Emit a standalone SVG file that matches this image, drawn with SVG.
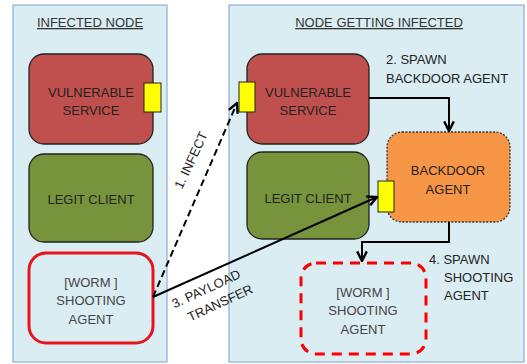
<svg xmlns="http://www.w3.org/2000/svg" width="527" height="364" viewBox="0 0 527 364">
<defs>
<style>
.panel{fill:#DAEDF3;stroke:#8EAEDB;stroke-width:1.2}
.t{font-family:"Liberation Sans",Arial,sans-serif;font-size:13px;fill:#222;text-anchor:middle}
.tl{font-family:"Liberation Sans",Arial,sans-serif;font-size:13px;fill:#222}
.title{font-family:"Liberation Sans",Arial,sans-serif;font-size:13px;fill:#333;text-anchor:middle;text-decoration:underline}
.worm{fill:#444}
.red{fill:#C0504D;stroke:#222;stroke-width:1.3}
.green{fill:#77933C;stroke:#222;stroke-width:1.3}
.port{fill:#FFFF00;stroke:#222;stroke-width:1}
.conn{fill:none;stroke:#000;stroke-width:2}
</style>
<marker id="arr" viewBox="0 0 10 10" refX="9" refY="5" markerWidth="6" markerHeight="6" orient="auto" markerUnits="strokeWidth">
<path d="M1,1 L9,5 L1,9" fill="none" stroke="#000" stroke-width="2"/>
</marker>
</defs>
<rect width="527" height="364" fill="#fff"/>
<g id="panel-left">
<rect class="panel" x="13" y="5" width="154" height="357"/>
<text class="title" x="90" y="27">INFECTED NODE</text>
</g>
<g id="panel-right">
<rect class="panel" x="229" y="5" width="295" height="357"/>
<text class="title" x="379" y="27">NODE GETTING INFECTED</text>
</g>
<g id="left-vulnerable-service">
<rect class="red" x="29" y="54" width="124" height="90" rx="15"/>
<text class="t" x="91" y="97">VULNERABLE</text>
<text class="t" x="91" y="115">SERVICE</text>
<rect class="port" x="144" y="83" width="17" height="29"/>
</g>
<g id="left-legit-client">
<rect class="green" x="29" y="154" width="124" height="88" rx="15"/>
<text class="t" x="91" y="204">LEGIT CLIENT</text>
</g>
<g id="left-shooting-agent">
<rect x="29" y="253" width="124" height="90" rx="17" fill="#DAEDF3" stroke="#E8141B" stroke-width="3"/>
<text class="t worm" x="91" y="287">[WORM ]</text>
<text class="t worm" x="91" y="305">SHOOTING</text>
<text class="t worm" x="91" y="324">AGENT</text>
</g>
<g id="right-vulnerable-service">
<rect class="red" x="247" y="54" width="122" height="90" rx="15"/>
<text class="t" x="308" y="97">VULNERABLE</text>
<text class="t" x="308" y="115">SERVICE</text>
<rect class="port" x="239" y="82" width="16" height="30"/>
</g>
<g id="right-legit-client">
<rect class="green" x="247" y="152" width="122" height="87" rx="15"/>
<text class="t" x="308" y="203">LEGIT CLIENT</text>
</g>
<g id="backdoor-agent">
<rect x="387" y="132" width="123" height="90" rx="15" fill="#F79646" stroke="#333" stroke-width="1.3" stroke-dasharray="2,1.5"/>
<text class="t" x="448" y="175">BACKDOOR</text>
<text class="t" x="448" y="194">AGENT</text>
<rect class="port" x="378" y="181" width="16" height="31"/>
</g>
<g id="right-shooting-agent">
<rect x="301" y="263" width="125" height="91" rx="15" fill="none" stroke="#FF0000" stroke-width="3" stroke-dasharray="10,7"/>
<text class="t worm" x="363" y="297">[WORM ]</text>
<text class="t worm" x="363" y="315">SHOOTING</text>
<text class="t worm" x="363" y="334">AGENT</text>
</g>
<g id="connectors">
<path class="conn" d="M153,297 L237,103" stroke-dasharray="7,4" marker-end="url(#arr)"/>
<path class="conn" d="M153,297 L377,197" marker-end="url(#arr)"/>
<path class="conn" d="M369,98 L449,98 L449,131" marker-end="url(#arr)"/>
<path class="conn" d="M449,222 L449,242 L362,242 L362,261" marker-end="url(#arr)"/>
<text class="t" transform="translate(195,162) rotate(-65)">1. INFECT</text>
<text class="t" transform="translate(208,293) rotate(-25)">3. PAYLOAD</text>
<text class="t" transform="translate(222,307) rotate(-25)">TRANSFER</text>
<text class="tl" x="386" y="64">2. SPAWN</text>
<text class="tl" x="386" y="83">BACKDOOR AGENT</text>
<text class="tl" x="429" y="264">4. SPAWN</text>
<text class="tl" x="444" y="282">SHOOTING</text>
<text class="tl" x="444" y="300">AGENT</text>
</g>
</svg>
